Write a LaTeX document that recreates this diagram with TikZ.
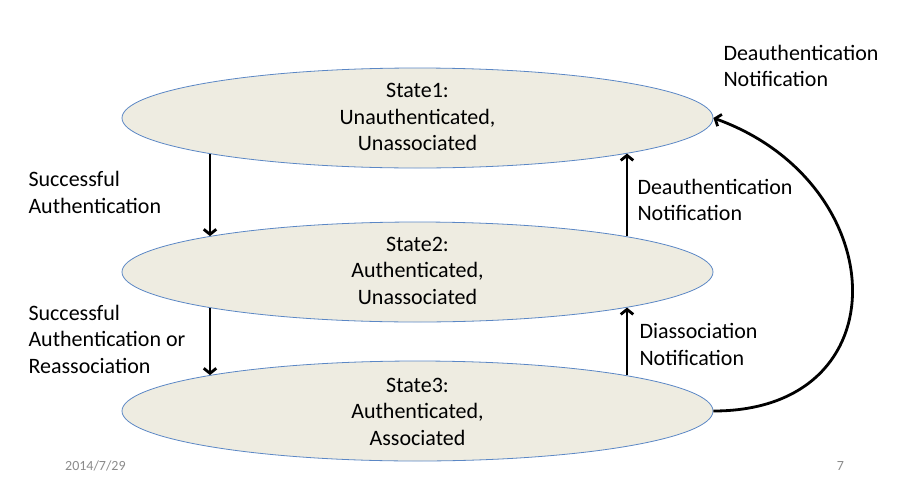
\documentclass[tikz,border=0pt]{standalone}
\usepackage{fontspec}
\setmainfont{Carlito}
\usetikzlibrary{arrows.meta,shapes.geometric,calc}
\definecolor{statefill}{HTML}{EEECE1}
\definecolor{stateblue}{HTML}{5B87C5}
\definecolor{footgray}{HTML}{8B8B8B}
\tikzset{
  statebox/.style={ellipse, draw=stateblue, fill=statefill, line width=0.8pt,
    minimum width=591pt, minimum height=100pt, inner sep=0pt},
  stxt/.style={font=\fontsize{22}{26.5}\selectfont, align=center, inner sep=0pt, anchor=base},
  lbl/.style={font=\fontsize{22}{26.5}\selectfont, align=left, inner sep=0pt, anchor=base west},
  foot/.style={font=\fontsize{14}{17}\selectfont, text=footgray, inner sep=0pt, anchor=base west},
  arr/.style={line width=2.8pt, -{Straight Barb[length=5pt,width=12.5pt]}}
}
\begin{document}
\begin{tikzpicture}[x=1pt,y=-1pt]
\useasboundingbox (0,0) rectangle (902,485);
\node[statebox] (s1) at (417.5,118) {};
\node[statebox] (s2) at (417.5,272) {};
\node[statebox] (s3) at (417.5,411) {};
% text (anchor = baseline of last line)
\node[stxt] (t1) at (417.5,150.5) {State1:\\Unauthenticated,\\Unassociated};
\node[stxt] (t2) at (417.5,304) {State2:\\Authenticated,\\Unassociated};
\node[stxt] (t3) at (417.5,445) {State3:\\Authenticated,\\Associated};
% points on the ellipse borders
\coordinate (s1bl) at ($(s1.center)+(-207.5,35.9)$);
\coordinate (s2tl) at ($(s2.center)+(-207.5,-35.9)$);
\coordinate (s2bl) at ($(s2.center)+(-207.5,35.9)$);
\coordinate (s3tl) at ($(s3.center)+(-207.5,-35.9)$);
\coordinate (s1br) at ($(s1.center)+(209.5,35.6)$);
\coordinate (s2tr) at ($(s2.center)+(209.5,-35.6)$);
\coordinate (s2br) at ($(s2.center)+(209.5,35.6)$);
\coordinate (s3tr) at ($(s3.center)+(209.5,-35.6)$);
\draw[arr] (s1bl) -- (s2tl);
\draw[arr] (s2bl) -- (s3tl);
\draw[arr] (s2tr) -- (s1br);
\draw[arr] (s3tr) -- (s2br);
\draw[arr] (s3.east) .. controls +(190,0) and +(180,65) .. (s1.east);
\node[lbl] (l1) at (28.3,213.3) {Successful\\Authentication};
\node[lbl] (l2) at (28.3,373.3) {Successful\\Authentication or\\Reassociation};
\node[lbl] (l3) at (637.3,220.7) {Deauthentication\\Notification};
\node[lbl] (l4) at (639.3,365) {Diassociation\\Notification};
\node[lbl] (l5) at (723.3,86.7) {Deauthentication\\Notification};
\node[foot] (date) at (65,470.7) {2014/7/29};
\node[foot] (page) at (836.7,470) {7};
\end{tikzpicture}
\end{document}
